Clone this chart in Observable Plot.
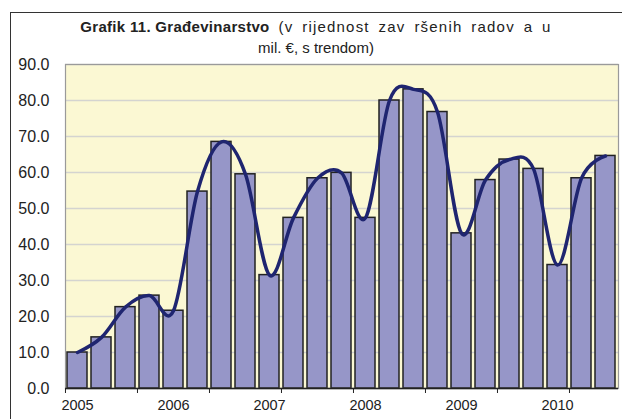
<!DOCTYPE html>
<html>
<head>
<meta charset="utf-8">
<script src="https://cdn.jsdelivr.net/npm/d3@7"></script>
<script src="https://cdn.jsdelivr.net/npm/@observablehq/plot@0.6"></script>
<style>
  html, body { margin: 0; padding: 0; background: #fff; }
  #wrap { position: relative; width: 622px; height: 419px; overflow: hidden; font-family: "Liberation Sans", Arial, sans-serif; }
  #border { position: absolute; left: 10px; top: 12px; width: 613px; height: 430px; border: 1px solid #333; box-sizing: border-box; }
  #title { position: absolute; left: 11px; top: 16px; width: 610px; text-align: center; font-size: 15px; line-height: 21px; color: #222; }
  #title b { font-weight: bold; letter-spacing: 0.3px; }
  #title .sp { letter-spacing: 1.2px; word-spacing: 3.5px; }
  #chart { position: absolute; left: 0; top: 0; }
</style>
</head>
<body>
<div id="wrap">
  <div id="chart"></div>
  <div id="border"></div>
  <div id="title"><b>Grafik 11. Građevinarstvo</b><span class="sp"> (v rijednost zav ršenih radov a u</span><br>mil. €, s trendom)</div>
</div>
<script>
// Quarterly values, 2005 Q1 – 2010 Q3 (mil. €)
const quarters = d3.range(23);
const values = [10.0, 14.2, 22.6, 25.8, 21.6, 54.7, 68.5, 59.5, 31.5, 47.4, 58.4, 59.9,
                47.4, 80.0, 83.1, 76.8, 43.1, 57.9, 63.6, 61.0, 34.3, 58.4, 64.6];
const yearLabels = ["2005", "2006", "2007", "2008", "2009", "2010"];
const yearTickIdx = [0, 4, 8, 12, 16, 20];
const tickMarkIdx = [0, 3, 6, 9, 12, 15, 18, 21];
const yTicks = [0, 10, 20, 30, 40, 50, 60, 70, 80, 90];

const data = quarters.map(i => ({i, v: values[i]}));
const step = (618 - 65) / 23;

const chart = Plot.plot({
  width: 622,
  height: 419,
  marginLeft: 65,
  marginRight: 4,
  marginTop: 64,
  marginBottom: 31,
  style: {fontFamily: "Liberation Sans, Arial, sans-serif", color: "#222", background: "transparent"},
  x: {type: "band", domain: quarters, paddingInner: 0.16, paddingOuter: 0.08, label: null},
  y: {domain: [0, 90], label: null},
  marks: [
    Plot.frame({fill: "#FBF8D3", stroke: null}),
    Plot.gridY(yTicks, {stroke: "#d4d4d0", strokeOpacity: 1, strokeWidth: 1.5}),
    Plot.barY(data, {x: "i", y: "v", fill: "#9696C8", stroke: "#222", strokeWidth: 1.5}),
    Plot.line(data, {x: "i", y: "v", curve: "cardinal", stroke: "#1F2570", strokeWidth: 3.5}),
    Plot.frame({stroke: "#9a9a9a", strokeWidth: 1.2}),
    Plot.ruleY([0], {stroke: "#222", strokeWidth: 1.5}),
    Plot.axisY(yTicks, {label: null, tickSize: 0, tickPadding: 16, fontSize: 16, tickFormat: d3.format(".1f"), fill: "#222"}),
    Plot.axisX(tickMarkIdx, {label: null, tickSize: 5, tickFormat: () => "", dx: -step / 2, stroke: "#222"}),
    Plot.axisX(yearTickIdx, {label: null, tickSize: 0, tickPadding: 11, fontSize: 14.5, fill: "#222",
      tickFormat: i => yearLabels[yearTickIdx.indexOf(i)]})
  ]
});
document.getElementById("chart").appendChild(chart);
</script>
</body>
</html>
